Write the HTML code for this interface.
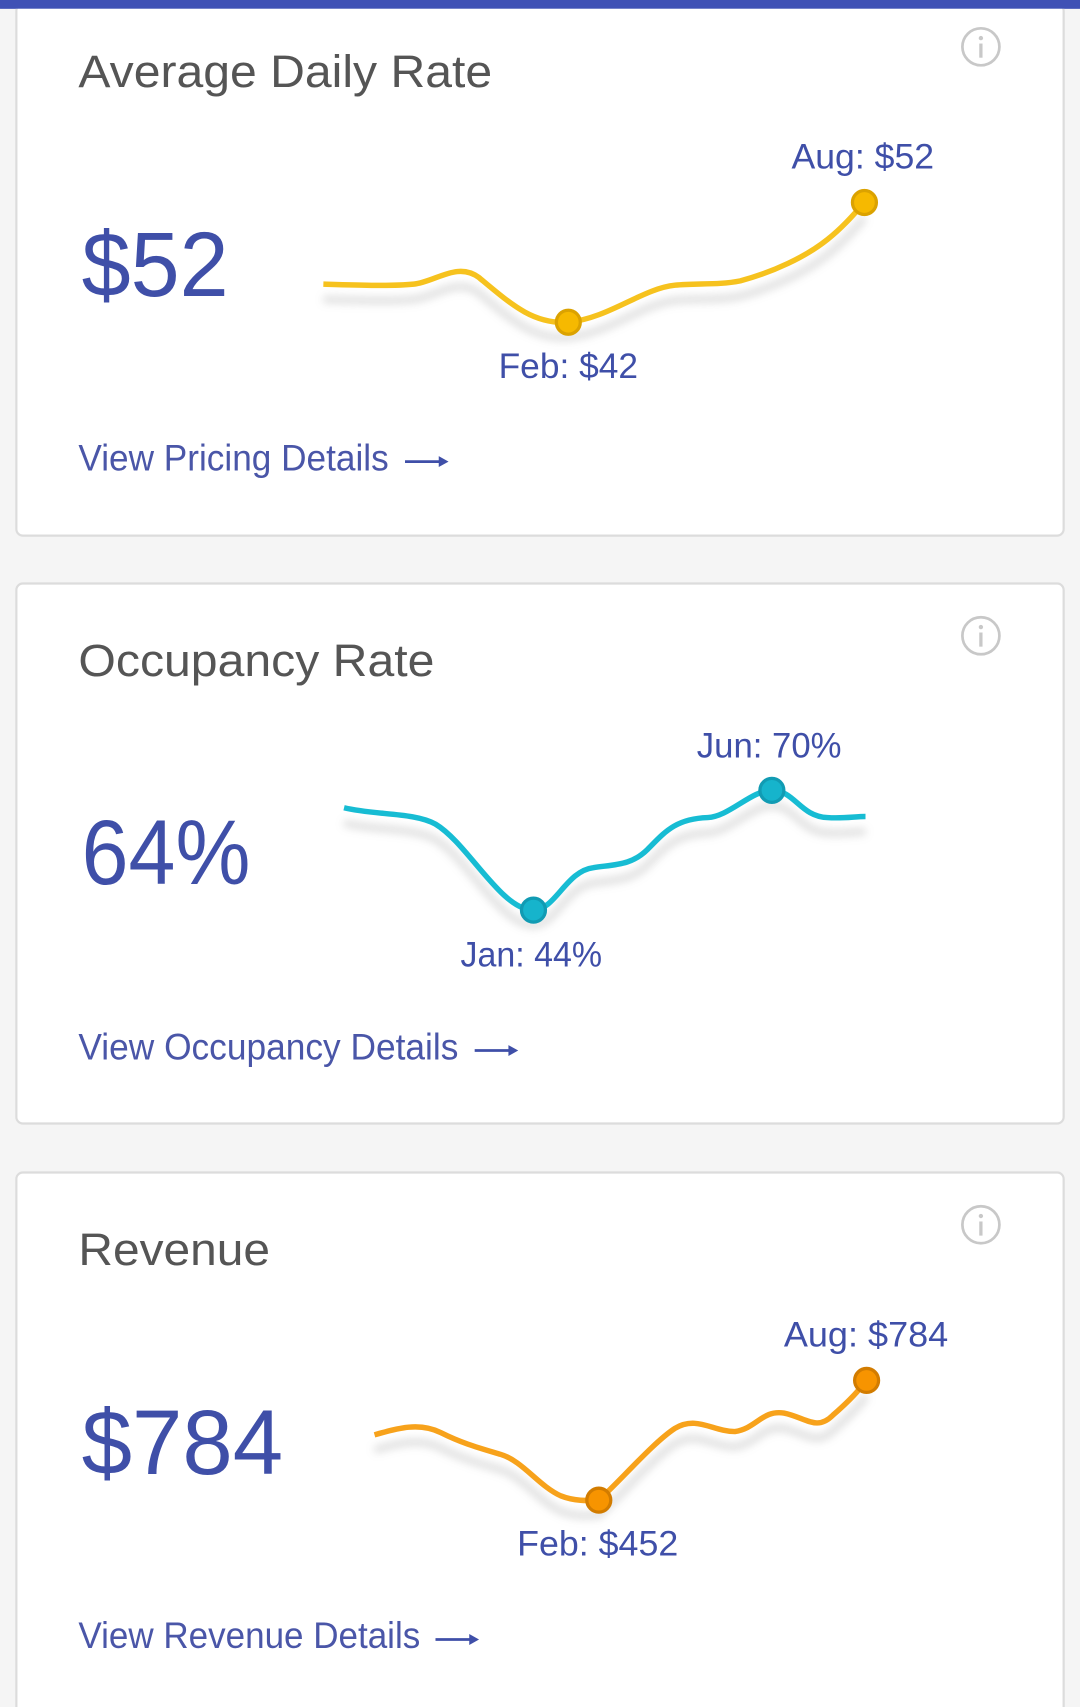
<!DOCTYPE html>
<html><head><meta charset="utf-8"><style>
html,body{margin:0;padding:0;background:#f5f5f5;}
svg{display:block;}
text{font-family:"Liberation Sans",sans-serif;}
</style></head><body>
<svg width="1080" height="1707" viewBox="0 0 992 1568" xmlns="http://www.w3.org/2000/svg">
<defs>
<filter id="sh" x="-10%" y="-30%" width="120%" height="160%"><feGaussianBlur stdDeviation="4"/></filter>
<g id="info"><circle r="17" fill="none" stroke="#c8c8c8" stroke-width="2.5"/><circle cy="-8" r="2" fill="#c8c8c8"/><rect x="-1.5" y="-3" width="3" height="13" fill="#c8c8c8"/></g>
</defs>
<rect width="992" height="1568" fill="#f5f5f5"/>
<rect x="0" y="0" width="992" height="8" fill="#3f51b5"/>
<!-- cards -->
<rect x="15" y="4" width="962" height="488" rx="6" fill="#fff" stroke="#dcdcdc" stroke-width="2"/>
<rect x="15" y="536" width="962" height="496" rx="6" fill="#fff" stroke="#dcdcdc" stroke-width="2"/>
<rect x="15" y="1077" width="962" height="520" rx="6" fill="#fff" stroke="#dcdcdc" stroke-width="2"/>
<rect x="0" y="0" width="992" height="8" fill="#3f51b5"/>
<use href="#info" x="901" y="43"/>
<use href="#info" x="901" y="584"/>
<use href="#info" x="901" y="1125"/>

<!-- card 1 -->
<text x="72" y="80" font-size="42" fill="#555" textLength="380" lengthAdjust="spacingAndGlyphs">Average Daily Rate</text>
<text x="75" y="272" font-size="84" fill="#3f4fa8" textLength="135" lengthAdjust="spacingAndGlyphs">$52</text>
<path d="M297,261 C330,262 360,263 380,261 C400,259 420,240 440,255 C470,280 490,298 522,296 C560,292 590,265 620,262 C640,260 660,262 680,258 C710,250 740,236 760,220 C775,208 785,196 794,186" fill="none" stroke="#999" stroke-width="6" opacity="0.35" filter="url(#sh)" transform="translate(0,14)"/>
<path d="M297,261 C330,262 360,263 380,261 C400,259 420,240 440,255 C470,280 490,298 522,296 C560,292 590,265 620,262 C640,260 660,262 680,258 C710,250 740,236 760,220 C775,208 785,196 794,186" fill="none" stroke="#f6c21e" stroke-width="5"/>
<circle cx="522" cy="296" r="11" fill="#f6b900" stroke="#dba200" stroke-width="3"/>
<circle cx="794" cy="186" r="11" fill="#f6b900" stroke="#dba200" stroke-width="3"/>
<text x="727" y="155" font-size="32" fill="#3f4fa8" textLength="131" lengthAdjust="spacingAndGlyphs">Aug: $52</text>
<text x="458" y="347" font-size="32" fill="#3f4fa8" textLength="128" lengthAdjust="spacingAndGlyphs">Feb: $42</text>
<text x="72" y="432" font-size="34" fill="#4a56a8" textLength="285" lengthAdjust="spacingAndGlyphs">View Pricing Details</text>
<path d="M372,424 H408" stroke="#3f4fa8" stroke-width="2.5"/><path d="M412,424 L403,419 L403,429 Z" fill="#3f4fa8"/>

<!-- card 2 -->
<text x="72" y="621" font-size="42" fill="#555" textLength="327" lengthAdjust="spacingAndGlyphs">Occupancy Rate</text>
<text x="75" y="812" font-size="84" fill="#3f4fa8" textLength="155" lengthAdjust="spacingAndGlyphs">64%</text>
<path d="M316,742 C345,749 380,746 400,757 C430,775 460,836 490,836 C510,836 520,800 545,797 C565,794 580,795 595,780 C610,765 620,752 650,751 C670,750 690,726 709,726 C730,726 735,750 760,751 C775,752 785,750 795,750" fill="none" stroke="#999" stroke-width="6" opacity="0.35" filter="url(#sh)" transform="translate(0,14)"/>
<path d="M316,742 C345,749 380,746 400,757 C430,775 460,836 490,836 C510,836 520,800 545,797 C565,794 580,795 595,780 C610,765 620,752 650,751 C670,750 690,726 709,726 C730,726 735,750 760,751 C775,752 785,750 795,750" fill="none" stroke="#17bcd3" stroke-width="5"/>
<circle cx="490" cy="836" r="11" fill="#16b4cc" stroke="#119bb3" stroke-width="3"/>
<circle cx="709" cy="726" r="11" fill="#16b4cc" stroke="#119bb3" stroke-width="3"/>
<text x="640" y="696" font-size="32" fill="#3f4fa8" textLength="133" lengthAdjust="spacingAndGlyphs">Jun: 70%</text>
<text x="423" y="888" font-size="32" fill="#3f4fa8" textLength="130" lengthAdjust="spacingAndGlyphs">Jan: 44%</text>
<text x="72" y="973" font-size="34" fill="#4a56a8" textLength="349" lengthAdjust="spacingAndGlyphs">View Occupancy Details</text>
<path d="M436,965 H472" stroke="#3f4fa8" stroke-width="2.5"/><path d="M476,965 L467,960 L467,970 Z" fill="#3f4fa8"/>

<!-- card 3 -->
<text x="72" y="1162" font-size="42" fill="#555" textLength="176" lengthAdjust="spacingAndGlyphs">Revenue</text>
<text x="75" y="1354" font-size="84" fill="#3f4fa8" textLength="185" lengthAdjust="spacingAndGlyphs">$784</text>
<path d="M344,1318 C365,1312 385,1306 405,1316 C425,1326 440,1330 460,1336 C480,1342 495,1365 515,1374 C530,1380 545,1378 550,1378 C570,1360 600,1325 620,1312 C640,1300 655,1315 675,1315 C695,1312 700,1295 720,1298 C740,1302 750,1315 765,1300 C780,1287 790,1276 796,1268" fill="none" stroke="#999" stroke-width="6" opacity="0.35" filter="url(#sh)" transform="translate(0,14)"/>
<path d="M344,1318 C365,1312 385,1306 405,1316 C425,1326 440,1330 460,1336 C480,1342 495,1365 515,1374 C530,1380 545,1378 550,1378 C570,1360 600,1325 620,1312 C640,1300 655,1315 675,1315 C695,1312 700,1295 720,1298 C740,1302 750,1315 765,1300 C780,1287 790,1276 796,1268" fill="none" stroke="#f7a21b" stroke-width="5"/>
<circle cx="550" cy="1378" r="11" fill="#f79400" stroke="#d27c00" stroke-width="3"/>
<circle cx="796" cy="1268" r="11" fill="#f79400" stroke="#d27c00" stroke-width="3"/>
<text x="720" y="1237" font-size="32" fill="#3f4fa8" textLength="151" lengthAdjust="spacingAndGlyphs">Aug: $784</text>
<text x="475" y="1429" font-size="32" fill="#3f4fa8" textLength="148" lengthAdjust="spacingAndGlyphs">Feb: $452</text>
<text x="72" y="1514" font-size="34" fill="#4a56a8" textLength="314" lengthAdjust="spacingAndGlyphs">View Revenue Details</text>
<path d="M400,1506 H436" stroke="#3f4fa8" stroke-width="2.5"/><path d="M440,1506 L431,1501 L431,1511 Z" fill="#3f4fa8"/>
</svg>
</body></html>
